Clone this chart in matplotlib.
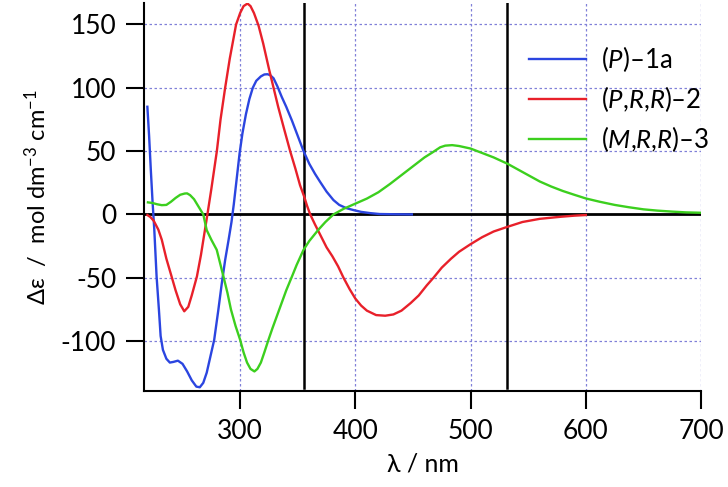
import matplotlib
matplotlib.use('Agg')
import matplotlib.pyplot as plt
import numpy as np

plt.rcParams['font.family'] = ['Lato', 'DejaVu Sans']
plt.rcParams['mathtext.fontset'] = 'custom'
plt.rcParams['mathtext.rm'] = 'Lato'
plt.rcParams['mathtext.it'] = 'Lato:italic'

# (P)-1a
wl_1a = [219.5, 221, 222.5, 224, 225.5, 227.5, 229.5, 231, 233, 236, 239, 242, 246, 250,
         254, 258, 262, 265, 268, 271, 274, 277.5, 281, 284, 287, 290, 292.5, 294.5, 297,
         299.5, 302, 305, 308, 311, 314, 318, 321, 323.7, 326, 329, 332.4, 336, 340,
         345, 350, 355, 360, 365, 369.4, 375, 381, 386, 392, 398.4, 405, 413, 421, 435, 449]
de_1a = [85, 62, 35, 10, -12, -49, -75, -96, -107, -114, -117, -116.5, -115.5, -118,
         -124, -131, -136, -136.5, -133, -125, -113, -99, -76, -55, -36, -20, -6, 8, 28,
         48, 64, 79, 91, 100, 105.5, 109, 110.5, 110.7, 110, 107.5, 101, 93, 85,
         74, 62, 50, 40, 32, 25.7, 18, 11.3, 7.5, 5, 3.4, 2, 1, 0.3, 0.1, 0]

# (P,R,R)-2
wl_2 = [219.5, 222, 225, 229, 232, 236, 240.5, 244, 248, 251.5, 255, 258, 262.5, 266,
        269.5, 271.6, 275, 279.8, 283, 287, 291, 296.5, 300, 303, 306.4, 309, 312, 316,
        320, 325, 329, 333, 338, 343.4, 348, 352, 355.6, 358, 360.8, 365, 370, 375, 380,
        385, 389.7, 395, 400, 405, 410, 418, 425.9, 433, 440, 448, 455, 462, 467.8, 475,
        483, 490, 500, 510, 520, 532, 545, 560, 577.8, 590, 600]
de_2 = [-0.5, -2, -5, -12, -20, -35, -49, -60, -71, -76.5, -73, -64, -49, -32,
        -12, 0, 20, 50, 75, 100, 123, 150, 159, 164.5, 166.5, 164.5, 159, 149,
        135, 115, 100, 85, 68, 50, 36, 23, 14, 7, 0, -8, -17, -26, -33,
        -41, -50, -59, -66.5, -72, -76, -79.5, -80, -79, -76, -70, -64, -56, -50, -42,
        -35, -29.5, -23.5, -18, -13.5, -9.8, -6, -3.5, -1.9, -1, -0.5]

# (M,R,R)-3
wl_3 = [220, 224, 228, 232, 236, 240, 244, 248, 252, 254, 256.6, 260, 264, 268, 271, 275,
        279.7, 285.5, 289, 292, 296, 300, 303, 306, 309, 312.4, 315, 318, 321, 324.6, 328,
        332, 336, 340, 345, 349, 352, 355, 360, 368, 374, 381, 390, 400, 410, 420, 430,
        440, 450, 460, 467, 473.6, 478, 484, 490, 500, 510, 520, 532, 540, 550, 560, 570,
        580, 590, 600, 612, 625, 637, 650, 662, 675, 687, 700]
de_3 = [9.5, 9, 8, 7.3, 7.5, 10, 13, 15.5, 16.5, 16.6, 15.2, 12, 6, 0, -12.4, -20,
        -28, -49, -62, -75, -88, -99, -109, -117, -122, -124, -122, -117, -109, -99, -90,
        -80, -70, -60, -49, -40, -34, -28, -21, -12, -6, 0, 4.5, 8.5, 12.5, 17.5, 24,
        31, 38, 45, 49, 53, 54.3, 54.7, 54, 52, 48.5, 45, 40, 36, 31, 26, 22,
        18.5, 15.5, 12.6, 10, 7.5, 5.7, 4, 3, 2.2, 1.6, 1.3]

labels = [r'($\mathit{P}$)–1a', r'($\mathit{P}$,$\mathit{R}$,$\mathit{R}$)–2',
          r'($\mathit{M}$,$\mathit{R}$,$\mathit{R}$)–3']
colors = ['#2b45e0', '#e8202a', '#3ccf1e']
markers_nm = [355, 532]

fig = plt.figure(figsize=(7.28, 4.87), dpi=100)
ax = fig.add_axes([0.198, 0.197, 0.765, 0.797])

ax.grid(True, color='#8080d8', linestyle=(0, (2, 2)), linewidth=0.9)
ax.set_axisbelow(True)
ax.axhline(0, color='black', linewidth=2, zorder=1)
for m in markers_nm:
    ax.axvline(m, ymin=0.008, ymax=1, color='black', linewidth=1.8, zorder=1)

for wl, de, lab, c in zip([wl_1a, wl_2, wl_3], [de_1a, de_2, de_3], labels, colors):
    ax.plot(wl, de, color=c, linewidth=1.7, label=lab, zorder=3)

ax.set_xlim(216.7, 700)
ax.set_ylim(-139.5, 167)
ax.set_xticks([300, 400, 500, 600, 700])
ax.set_yticks([-100, -50, 0, 50, 100, 150])
ax.set_yticklabels(['-100', '-50', '0', '50', '100', '150'])

for s in ['top', 'right']:
    ax.spines[s].set_visible(False)
for s in ['left', 'bottom']:
    ax.spines[s].set_linewidth(1.5)
ax.tick_params(direction='out', length=13, width=1.5, labelsize=19, pad=7)

ax.set_xlabel('λ / nm', fontsize=18, labelpad=6)
ax.set_ylabel('Δε  /  mol dm$^{-3}$ cm$^{-1}$', fontsize=17, labelpad=8)

ax.legend(loc='upper left', bbox_to_anchor=(0.672, 0.92), frameon=False, fontsize=18.5,
          handlelength=2.25, handletextpad=0.55, labelspacing=0.38, borderaxespad=0)

fig.savefig('out.png', dpi=100)
